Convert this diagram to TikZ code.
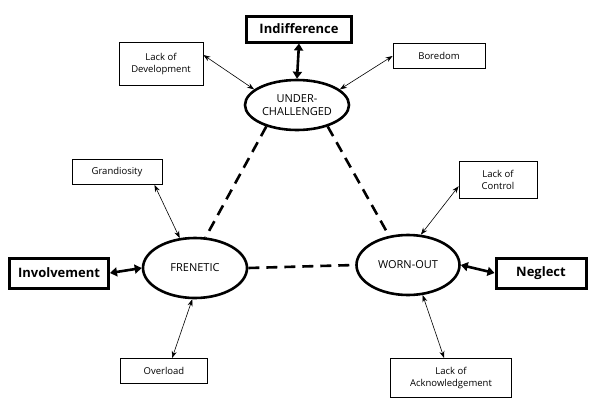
\documentclass[tikz,border=0pt]{standalone}
\usepackage{fontspec}
\setmainfont{Open Sans}
\usetikzlibrary{shapes.geometric,arrows.meta}

\tikzset{
  smallbox/.style={draw,line width=0.8pt,align=center,font=\fontsize{9.5}{12}\selectfont,inner sep=2pt},
  bigbox/.style={draw,line width=3pt,font=\fontsize{13}{15}\selectfont\bfseries,inner sep=2pt},
  state/.style={ellipse,draw,line width=2.6pt,align=center,inner sep=0pt,font=\fontsize{11}{13}\selectfont},
  thin link/.style={{Stealth[length=7pt,width=5pt]}-{Stealth[length=7pt,width=5pt]},line width=0.6pt},
  thick link/.style={{Triangle[length=7pt,width=9pt]}-{Triangle[length=7pt,width=9pt]},line width=2.6pt},
  tie/.style={line width=2.6pt,dash pattern=on 11pt off 7pt}
}

\begin{document}
\begin{tikzpicture}[x=1pt,y=-1pt]
  \useasboundingbox (0,0) rectangle (600,415);
  % the three states
  \node[state,minimum width=104pt,minimum height=50pt] (uc) at (297,105) {UNDER-\\CHALLENGED};
  \node[state,minimum width=104pt,minimum height=60pt] (fren) at (195,268) {FRENETIC};
  \node[state,minimum width=103pt,minimum height=60pt] (wo) at (408,265) {WORN-OUT};
  % outer boxes
  \node[bigbox,minimum width=105pt,minimum height=26pt] (ind) at (299,29) {Indifference};
  \node[bigbox,minimum width=99pt,minimum height=30pt] (inv) at (59,273) {Involvement};
  \node[bigbox,minimum width=90pt,minimum height=30pt] (neg) at (541,273) {Neglect};
  \node[smallbox,minimum width=84pt,minimum height=43pt] (dev) at (161,64) {Lack of\\Development};
  \node[smallbox,minimum width=92pt,minimum height=25pt] (bor) at (439,56) {Boredom};
  \node[smallbox,minimum width=90pt,minimum height=25pt] (grand) at (117,172) {Grandiosity};
  \node[smallbox,minimum width=87pt,minimum height=25pt] (over) at (164,371) {Overload};
  \node[smallbox,minimum width=78pt,minimum height=37pt] (ctrl) at (498,180) {Lack of\\Control};
  \node[smallbox,minimum width=121pt,minimum height=39pt] (ack) at (451,378) {Lack of\\Acknowledgement};
  % triangle
  \draw[tie] (uc.215) -- (fren.71);
  \draw[tie] (uc.325) -- (wo.123);
  \draw[tie] (fren.east) -- (wo.west);
  % links
  \draw[thick link] (ind.south) -- (uc.north);
  \draw[thick link] (inv.east) -- (fren.west);
  \draw[thick link] (wo.east) -- (neg.west);
  \draw[thin link] (dev.12) -- (uc.160);
  \draw[thin link] (bor.west) -- (uc.20);
  \draw[thin link] (grand.-19) -- (fren.117);
  \draw[thin link] (fren.265) -- (over.58);
  \draw[thin link] (ctrl.189) -- (wo.67);
  \draw[thin link] (wo.-64) -- (ack.109);
\end{tikzpicture}
\end{document}
